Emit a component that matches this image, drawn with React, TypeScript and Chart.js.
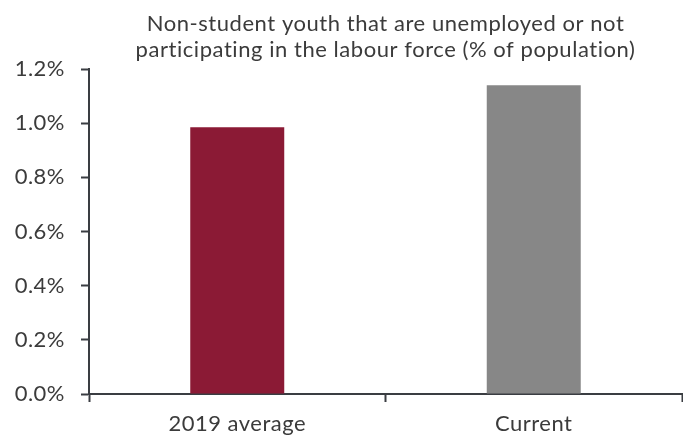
import { useEffect, useRef } from 'react';
import Chart from 'chart.js/auto';

const categories = ['2019 average', 'Current'];
const values = [0.985, 1.14];
const barColors = ['#8B1A35', '#878787'];
const titleLines = [
  'Non-student youth that are unemployed or not',
  'participating in the labour force (% of population)',
];

const FONT = 'Lato, "Open Sans", sans-serif';
const TEXT = '#3b3b3b';
const AXIS = '#3a3d42';

// spread the glyphs a little, the source font is wider than Lato
const spacingPlugin = {
  id: 'letterSpacing',
  beforeDraw(chart: any) {
    chart.ctx.letterSpacing = '0.5px';
  },
};

const titlePlugin = {
  id: 'centredTitle',
  afterDraw(chart: any) {
    const { ctx, chartArea } = chart;
    const cx = (chartArea.left + chartArea.right) / 2;
    ctx.save();
    ctx.letterSpacing = '0.55px';
    ctx.font = `22px ${FONT}`;
    ctx.fillStyle = TEXT;
    ctx.textAlign = 'center';
    ctx.textBaseline = 'alphabetic';
    titleLines.forEach((line, i) => ctx.fillText(line, cx, 31 + i * 26));
    ctx.restore();
  },
};

export default function App() {
  const chartRef = useRef<HTMLCanvasElement>(null);
  const chartInstance = useRef<Chart | null>(null);

  useEffect(() => {
    if (!chartRef.current) return;
    const ctx = chartRef.current.getContext('2d');
    if (!ctx) return;
    chartInstance.current = new Chart(ctx, {
      type: 'bar',
      data: {
        labels: categories,
        datasets: [{
          data: values,
          backgroundColor: barColors,
          borderWidth: 0,
          categoryPercentage: 1,
          barPercentage: 0.317,
        }],
      },
      options: {
        animation: false,
        responsive: false,
        devicePixelRatio: 1,
        layout: { padding: { top: 69, right: 1, left: 0, bottom: 0 } },
        plugins: {
          legend: { display: false },
          title: { display: false },
          tooltip: { enabled: false },
        },
        scales: {
          x: {
            afterFit: (scale: any) => { scale.height = 41; },
            grid: {
              offset: true,
              drawOnChartArea: false,
              drawTicks: true,
              tickLength: 8,
              tickWidth: 2,
              color: AXIS,
            },
            border: { display: true, color: AXIS, width: 2 },
            ticks: {
              color: TEXT,
              font: { family: FONT, size: 22 },
              padding: 9,
            },
          },
          y: {
            min: 0,
            max: 1.2,
            afterFit: (scale: any) => { scale.width = 89; },
            grid: {
              drawOnChartArea: false,
              drawTicks: true,
              tickLength: 8,
              tickWidth: 2,
              color: AXIS,
            },
            border: { display: true, color: AXIS, width: 2 },
            ticks: {
              stepSize: 0.2,
              color: TEXT,
              font: { family: FONT, size: 22 },
              padding: 16,
              callback: (v: any) => Number(v).toFixed(1) + '%',
            },
          },
        },
      },
      plugins: [spacingPlugin, titlePlugin],
    });
    return () => {
      chartInstance.current?.destroy();
    };
  }, []);

  return (
    <div style={{ position: 'fixed', left: 0, top: 0, width: 683, height: 435, background: '#fff' }}>
      <canvas ref={chartRef} width={683} height={435}></canvas>
    </div>
  );
}
